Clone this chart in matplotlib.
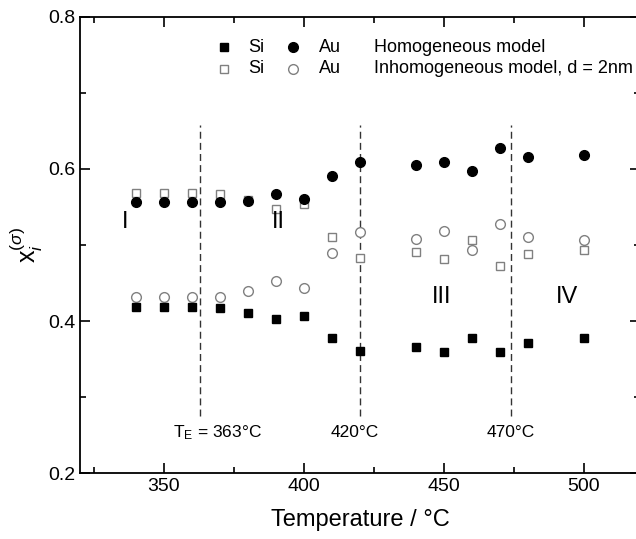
import numpy as np
import matplotlib.pyplot as plt
from matplotlib.ticker import MultipleLocator

plt.rcParams['font.family'] = ['Liberation Sans', 'DejaVu Sans']
plt.rcParams['mathtext.fontset'] = 'custom'
plt.rcParams['mathtext.rm'] = 'Liberation Sans'
plt.rcParams['mathtext.it'] = 'Liberation Sans:italic'

# Temperatures (deg C)
temp = [340, 350, 360, 370, 380, 390, 400, 410, 420, 440, 450, 460, 470, 480, 500]

# Homogeneous model
si_hom = [0.419, 0.419, 0.419, 0.417, 0.410, 0.402, 0.407, 0.378, 0.361,
          0.366, 0.359, 0.378, 0.359, 0.371, 0.378]
au_hom = [0.556, 0.557, 0.556, 0.556, 0.558, 0.567, 0.560, 0.591, 0.609,
          0.605, 0.609, 0.597, 0.627, 0.616, 0.618]

# Inhomogeneous model, d = 2nm
si_inh = [0.568, 0.568, 0.569, 0.567, 0.559, 0.547, 0.554, 0.510, 0.483,
          0.491, 0.482, 0.507, 0.472, 0.488, 0.493]
au_inh = [0.431, 0.432, 0.431, 0.432, 0.439, 0.452, 0.444, 0.490, 0.517,
          0.508, 0.518, 0.494, 0.528, 0.511, 0.507]

# Transition lines
t_lines = [363, 420, 474]
t_line_labels = [r'T$_\mathrm{E}$ = 363°C', '420°C', '470°C']
regions = ['I', 'II', 'III', 'IV']
region_x = [336, 391, 449, 494]
region_y = [0.53, 0.53, 0.432, 0.432]

fig = plt.figure(figsize=(6.36, 5.39), dpi=100)
ax = fig.add_axes([0.1258, 0.1224, 0.8805, 0.8461])

gray = '#808080'
ax.plot(temp, si_inh, 's', ms=6, mfc='white', mec=gray, mew=1.0, zorder=3)
ax.plot(temp, au_inh, 'o', ms=7, mfc='white', mec=gray, mew=1.0, zorder=3)
ax.plot(temp, si_hom, 's', ms=6, color='black', zorder=4)
ax.plot(temp, au_hom, 'o', ms=7, color='black', zorder=4)

for t in t_lines:
    ax.plot([t, t], [0.275, 0.658], '--', color='#333333', lw=1.0, dashes=(5, 3))

label_x = [369, 418, 474]
for lx, lab in zip(label_x, t_line_labels):
    ax.text(lx, 0.253, lab, ha='center', va='center', fontsize=12.5)

for rx, ry, r in zip(region_x, region_y, regions):
    ax.text(rx, ry, r, ha='center', va='center', fontsize=17)

# legend drawn as text rows
row1, row2 = 0.7605, 0.7316
ax.plot([371.5], [row1], 's', ms=6, color='black')
ax.plot([396], [row1], 'o', ms=7, color='black')
ax.plot([371.5], [row2], 's', ms=6, mfc='white', mec=gray, mew=1.0)
ax.plot([396], [row2], 'o', ms=7, mfc='white', mec=gray, mew=1.0)
ax.text(380, row1, 'Si', va='center', fontsize=13)
ax.text(405.5, row1, 'Au', va='center', fontsize=13)
ax.text(425, row1, 'Homogeneous model', va='center', fontsize=13)
ax.text(380, row2, 'Si', va='center', fontsize=13)
ax.text(405.5, row2, 'Au', va='center', fontsize=13)
ax.text(425, row2, 'Inhomogeneous model, d = 2nm', va='center', fontsize=13)

ax.set_xlim(320, 520)
ax.set_ylim(0.2, 0.8)
ax.xaxis.set_major_locator(MultipleLocator(50))
ax.xaxis.set_minor_locator(MultipleLocator(25))
ax.yaxis.set_major_locator(MultipleLocator(0.2))
ax.yaxis.set_minor_locator(MultipleLocator(0.1))
ax.yaxis.set_major_formatter(plt.FuncFormatter(lambda v, p: f'{v:.1f}'))
ax.tick_params(which='both', direction='in', top=True, right=True, labelsize=14, width=1.2)
ax.tick_params(which='major', length=7)
ax.tick_params(which='minor', length=4)
for s in ax.spines.values():
    s.set_linewidth(1.3)

ax.set_xlabel('Temperature / °C', fontsize=17, labelpad=10)
ax.set_ylabel(r'x$_i^{(\sigma)}$', fontsize=18, labelpad=2)

fig.savefig('out.png', dpi=100)
